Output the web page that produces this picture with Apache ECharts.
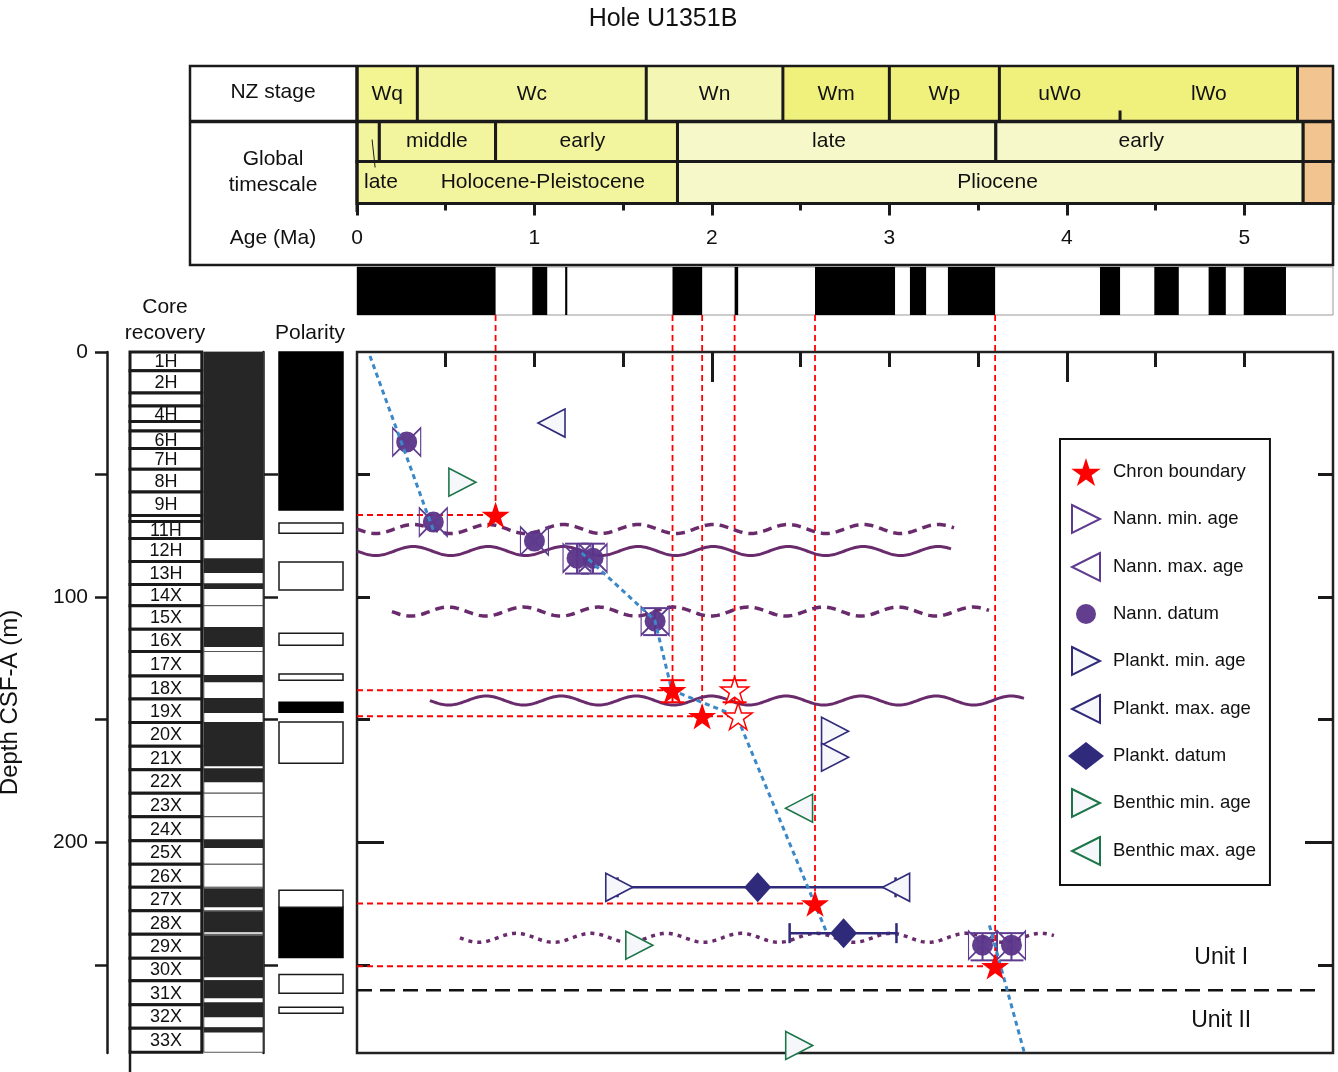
<!DOCTYPE html>
<html>
<head>
<meta charset="utf-8">
<title>Hole U1351B</title>
<script src="https://cdn.jsdelivr.net/npm/echarts@6.0.0/dist/echarts.min.js"></script>
<style>html,body{margin:0;padding:0;background:#fff;}#chart{width:1338px;height:1072px;}</style>
</head>
<body>
<div id="chart"></div>
<script>
// ================= DATA =================
// tick values / labels
const ageTicksMajor = [0, 1, 2, 3, 4, 5];
const ageTicksMinor = [0.5, 1.5, 2.5, 3.5, 4.5];
const plotAgeTicksShort = [0.5, 1, 1.5, 2.5, 3, 3.5, 4.5, 5];
const plotAgeTicksLong = [2, 4];
const depthTicks = [0, 50, 100, 150, 200, 250];
const depthLabels = [0, 100, 200];
const plotDepthTicksShort = [50, 100, 150, 250];
const plotDepthTicksLong = [200];
const recoveryTicks = [50, 100, 150, 250];

// NZ stages [startMa, endMa, label]
const nzStages = [[0, 0.34, 'Wq'], [0.34, 1.63, 'Wc'], [1.63, 2.40, 'Wn'], [2.40, 3.00, 'Wm'], [3.00, 3.62, 'Wp'], [3.62, 4.30, 'uWo'], [4.30, 5.30, 'lWo'], [5.30, 5.5, '']];
const nzSubBoundaries = [4.30];
// global stages and epochs
const stageCells = [[0, 0.126, ''], [0.126, 0.781, 'middle'], [0.781, 1.806, 'early'], [1.806, 3.60, 'late'], [3.60, 5.332, 'early'], [5.332, 5.5, '']];
const stageLabelAges = [null, 0.45, 1.27, 2.66, 4.42, null];
const lateNote = { text: 'late', labelAge: 0.135, leaderTop: 0.085, leaderBottom: 0.102 };
const epochCells = [[0, 1.806, 'Holocene-Pleistocene'], [1.806, 5.332, 'Pliocene'], [5.332, 5.5, '']];
const epochLabelAges = [1.047, 3.61, null];
// GPTS normal polarity intervals (Ma)
const normalChrons = [[0, 0.781], [0.988, 1.072], [1.173, 1.185], [1.778, 1.945], [2.128, 2.148], [2.581, 3.032], [3.116, 3.207], [3.330, 3.596], [4.187, 4.300], [4.493, 4.631], [4.799, 4.896], [4.997, 5.235]];

// cores (depth m)
const coreNames = ['1H','2H','3H','4H','5H','6H','7H','8H','9H','10H','11H','12H','13H','14X','15X','16X','17X','18X','19X','20X','21X','22X','23X','24X','25X','26X','27X','28X','29X','30X','31X','32X','33X'];
const coreTops = [0, 7.6, 16.7, 22.0, 28.4, 32.2, 39.4, 47.8, 57.1, 66.7, 69.2, 76.1, 85.5, 94.9, 103.5, 113.1, 122.2, 132.2, 141.6, 151.2, 160.8, 170.4, 180.0, 189.6, 199.4, 209.0, 218.4, 228.0, 237.6, 247.3, 256.5, 266.3, 275.9];
const coreBottoms = [7.6, 16.7, 22.0, 28.4, 32.2, 39.4, 47.8, 57.1, 66.7, 69.2, 76.1, 85.5, 94.9, 103.5, 113.1, 122.2, 132.2, 141.6, 151.2, 160.8, 170.4, 180.0, 189.6, 199.4, 209.0, 218.4, 228.0, 237.6, 247.3, 256.5, 266.3, 275.9, 285.7];
const recoveredIntervals = [[0, 76.7], [84.1, 90.2], [94.3, 96.7], [112.2, 120.4], [131.8, 134.7], [141.2, 147.3], [151.0, 169.0], [169.8, 175.5], [198.8, 202.4], [218.8, 226.5], [228.2, 236.7], [238.0, 255.1], [256.3, 263.7], [265.3, 271.4], [275.5, 277.6]];
// magnetostratigraphy (depth m)
const polarityNormal = [[0, 64.5], [142.9, 147.0], [226.5, 247.0]];
const polarityReversed = [[69.8, 73.9], [85.7, 97.1], [114.7, 119.6], [131.4, 133.9], [151.0, 167.8], [219.6, 226.5], [254.0, 261.6], [267.3, 269.8]];

// age-depth points [age Ma, depth m]
const chronBoundaries = [[0.781, 66.5], [1.778, 138.0], [1.945, 148.6], [2.581, 225.0], [3.596, 250.6]];
const chronUncertain = [[2.128, 138.0], [2.148, 148.6]];
const chronVerticalGuides = [[0.781, 66.5], [1.778, 138.0], [1.945, 148.6], [2.128, 138.0], [2.581, 225.0], [3.596, 250.6]];
const chronGuideDepths = [[66.5, 0.781], [138.0, 1.778], [148.6, 2.148], [225.0, 2.581], [250.6, 3.596]];
const chronDepthRanges = [[1.778, 133.9, 142.9], [2.128, 133.9, 142.9]];
const nannDatums = [[0.28, 36.7], [0.43, 69.4], [1.00, 77.1], [1.24, 84.1], [1.33, 84.1], [1.68, 109.8], [3.525, 242.0], [3.688, 242.0]];
const nannMinAges = [[0.28, 36.7], [0.43, 69.4], [1.00, 77.1], [1.24, 84.1], [1.33, 84.1], [1.68, 109.8], [3.525, 242.0], [3.688, 242.0]];
const nannMaxAges = [[0.28, 36.7], [0.43, 69.4], [1.00, 77.1], [1.24, 84.1], [1.33, 84.1], [1.68, 109.8], [3.525, 242.0], [3.688, 242.0]];
const nannDepthRanges = [[1.24, 78.2, 90.4], [1.33, 78.2, 90.4], [1.68, 104.5, 115.5], [3.525, 237.1, 248.2], [3.688, 237.1, 248.2]];
const planktMinAges = [[1.554, 218.4], [2.77, 154.7], [2.77, 165.3]];
const planktMaxAges = [[1.02, 29.0], [2.962, 218.4]];
const planktDatums = [[2.258, 218.4], [2.742, 237.1]];
const planktAgeRanges = [[1.468, 3.035, 218.4], [2.438, 3.04, 237.1]];
const benthicMinAges = [[0.67, 53.1], [1.667, 242.0], [2.568, 282.9]];
const benthicMaxAges = [[2.415, 186.1]];
// age model, broken at hiatuses
const ageModelUpper = [[0.073, 1.6], [0.434, 73.5]];
const ageModelMiddle = [[1.267, 82.0], [1.678, 109.4], [1.774, 138.0], [2.14, 148.6], [2.646, 236.7]];
const ageModelLower = [[3.564, 233.9], [3.761, 286]];
// hiatuses [fromAge, toAge, depth]
const hiatuses = [[0, 3.367, 72.2], [0, 3.35, 81.2], [0.197, 3.564, 105.9], [0.411, 3.761, 142.2], [0.58, 3.93, 239.0]];
const hiatusKinds = ['dashed', 'solid', 'dashed', 'solid', 'dotted'];
const unitBoundary = [0, 5.44, 260.4];
const unitNames = ['Unit I', 'Unit II'];
const unitLabelDepths = [247.3, 272.7];
const unitLabelAge = 4.87;

// ================= STYLE / LAYOUT =================
const AGE_MAX = 5.5, DEPTH_MAX = 286;
const FONT = '"Liberation Sans", Arial, Helvetica, sans-serif';
const C = { ink: '#1a1a1a', red: '#ff0000', nann: '#5b3489', nannLine: '#5e3b8f', plankt: '#2f2a7a', benthic: '#1c7548', triFill: '#f6f7fb', wave: '#6a2b6c', model: '#3b88c8' };
const nzColors = ['#f2f592', '#f3f59e', '#f4f7b4', '#f0f17c', '#f0f17c', '#f0f17c', '#f0f17c', '#f2c590'];
const stageColors = ['#f3f59e', '#f3f59e', '#f3f59e', '#f6f8c9', '#f6f8c9', '#f2c590'];
const epochColors = ['#f3f59e', '#f6f8c9', '#f2c590'];
const LY = { polBottom: 315 };
const WAVE = { amp: 4.5, len: 75 };
const TRI_R = 'path://M0,0L28,14L0,28Z';
const TRI_L = 'path://M28,0L0,14L28,28Z';
const STAR = 'path://M50,0L61.23,34.55L97.55,34.55L68.17,55.9L79.39,90.45L50,69.1L20.61,90.45L31.83,55.9L2.45,34.55L38.77,34.55Z';
const CIRCLE_ICON = 'path://M0,0M28,28M24,14A10,10,0,1,1,4,14A10,10,0,1,1,24,14Z';

const chart = echarts.init(document.getElementById('chart'), null, { renderer: 'canvas', width: 1338, height: 1072 });

function cellRect(api, a0, a1) {
  const p0 = api.coord([a0, 1]), p1 = api.coord([a1, 0]);
  return { x: p0[0], y: p0[1], width: p1[0] - p0[0], height: p1[1] - p0[1] };
}
function txt(text, x, y, size, align) {
  return { type: 'text', style: { text: text, x: x, y: y, fontSize: size, fontFamily: FONT, fill: '#111', align: align || 'center', verticalAlign: 'middle' } };
}
const OFF = { show: false, onZero: false };
const hiddenX = (g) => ({ gridIndex: g, type: 'value', min: 0, max: AGE_MAX, show: false, axisLine: OFF });
const hidden01 = (g) => ({ gridIndex: g, type: 'value', min: 0, max: 1, show: false, axisLine: OFF });
const hiddenDepth = (g) => ({ gridIndex: g, type: 'value', min: 0, max: DEPTH_MAX, inverse: true, show: false, axisLine: OFF });
const noSplit = { show: false };
const tickStyle = { color: C.ink, width: 3 };
const G = (o) => Object.assign({ outerBoundsMode: 'none', containLabel: false }, o);
function tickAxis(grid, kind, pos, ticks, len, inside) {
  const ax = { gridIndex: grid, type: 'value', position: pos, axisLine: OFF, splitLine: noSplit, axisLabel: { show: false },
    axisTick: { show: true, inside: inside, customValues: ticks, length: len, lineStyle: tickStyle } };
  if (kind === 'age') { ax.min = 0; ax.max = AGE_MAX; } else { ax.min = 0; ax.max = DEPTH_MAX; ax.inverse = true; }
  return ax;
}

const option = {
  animation: false,
  backgroundColor: '#fff',
  textStyle: { fontFamily: FONT },
  grid: [
    G({ left: 357, top: 66, width: 976, height: 55.5 }),            // 0 NZ stage
    G({ left: 357, top: 121.5, width: 976, height: 40 }),           // 1 stage
    G({ left: 357, top: 161.5, width: 976, height: 42 }),           // 2 epoch
    G({ left: 357, top: 267, width: 976, height: 48, show: true, borderColor: '#999', borderWidth: 1, backgroundColor: '#fff' }), // 3 GPTS
    G({ left: 357, top: 352, width: 976, height: 701, show: true, borderColor: '#222', borderWidth: 2.5 }), // 4 main
    G({ left: 130, top: 352, width: 133, height: 701 }),            // 5 cores
    G({ left: 279, top: 352, width: 64, height: 701 }),             // 6 polarity column
    G({ left: 357, top: 352, width: 976, height: 701 }),            // 7 main overlay (long ticks)
    G({ left: 107, top: 352, width: 20, height: 701 }),             // 8 depth axis
    G({ left: 357, top: 161.5, width: 976, height: 42 })            // 9 epoch overlay (minor age ticks)
  ],
  xAxis: [
    hiddenX(0), hiddenX(1),
    tickAxis(9, 'age', 'bottom', ageTicksMinor, 7, false),
    { gridIndex: 2, type: 'value', min: 0, max: AGE_MAX, position: 'bottom', axisLine: OFF, splitLine: noSplit,
      axisTick: { show: true, customValues: ageTicksMajor, length: 12, lineStyle: tickStyle },
      axisLabel: { show: true, customValues: ageTicksMajor, margin: 24, fontSize: 21, color: '#111', fontFamily: FONT } },
    hiddenX(3),
    tickAxis(4, 'age', 'top', plotAgeTicksShort, 15, true),
    hidden01(5),
    hidden01(6),
    tickAxis(7, 'age', 'top', plotAgeTicksLong, 30, true),
    hidden01(8)
  ],
  yAxis: [
    hidden01(0), hidden01(1), hidden01(2), hidden01(3),
    tickAxis(4, 'depth', 'left', plotDepthTicksShort, 13, true),
    tickAxis(4, 'depth', 'right', plotDepthTicksShort, 15, true),
    { gridIndex: 5, type: 'value', min: 0, max: DEPTH_MAX, inverse: true, position: 'right',
      axisLine: { show: true, onZero: false, lineStyle: { color: C.ink, width: 2.5 } }, splitLine: noSplit, axisLabel: { show: false },
      axisTick: { show: true, customValues: recoveryTicks, length: 15, lineStyle: { color: C.ink, width: 2.5 } } },
    hiddenDepth(6),
    tickAxis(7, 'depth', 'left', plotDepthTicksLong, 27, true),
    { gridIndex: 8, type: 'value', min: 0, max: DEPTH_MAX, inverse: true, position: 'left',
      axisLine: { show: true, onZero: false, lineStyle: { color: C.ink, width: 2.5 } }, splitLine: noSplit,
      axisTick: { show: true, customValues: depthTicks, length: 12, lineStyle: { color: C.ink, width: 2.5 } },
      axisLabel: { show: true, customValues: depthLabels, margin: 19, fontSize: 21, color: '#111', fontFamily: FONT },
      name: 'Depth CSF-A (m)', nameLocation: 'middle', nameGap: 85, nameRotate: 90, nameMoveOverlap: false,
      nameTextStyle: { fontSize: 24, color: '#111', fontFamily: FONT } },
    tickAxis(7, 'depth', 'right', plotDepthTicksLong, 28, true),
    hidden01(9)
  ],
  legend: {
    orient: 'vertical', left: 1060, top: 439, itemGap: 18, itemWidth: 36, itemHeight: 28,
    padding: [19, 14, 19, 8], borderColor: '#111', borderWidth: 2, backgroundColor: '#fff', selectedMode: false,
    textStyle: { fontSize: 18.5, color: '#111', fontFamily: FONT, padding: [0, 0, 0, 4] },
    data: [
      { name: 'Chron boundary' }, { name: 'Nann. min. age' }, { name: 'Nann. max. age' },
      { name: 'Nann. datum', icon: CIRCLE_ICON }, { name: 'Plankt. min. age' }, { name: 'Plankt. max. age' },
      { name: 'Plankt. datum' }, { name: 'Benthic min. age' }, { name: 'Benthic max. age' }
    ]
  },
  graphic: [
    { type: 'text', z: 100, style: { text: 'Hole U1351B', x: 663, y: 19, fontSize: 25, fontFamily: FONT, fill: '#111', align: 'center', verticalAlign: 'middle' } },
    { type: 'rect', z: 100, shape: { x: 190, y: 66, width: 1143, height: 199 }, style: { fill: null, stroke: C.ink, lineWidth: 2.5 } },
    { type: 'line', z: 100, shape: { x1: 190, y1: 121.5, x2: 1333, y2: 121.5 }, style: { stroke: C.ink, lineWidth: 3.5 } },
    { type: 'line', z: 100, shape: { x1: 357, y1: 66, x2: 357, y2: 212 }, style: { stroke: C.ink, lineWidth: 3 } },
    { type: 'line', z: 100, shape: { x1: 130, y1: 1050, x2: 130, y2: 1072 }, style: { stroke: C.ink, lineWidth: 2.5 } },
    { type: 'text', z: 100, style: { text: 'NZ stage', x: 273, y: 92, fontSize: 21, fontFamily: FONT, fill: '#111', align: 'center', verticalAlign: 'middle' } },
    { type: 'text', z: 100, style: { text: 'Global', x: 273, y: 159, fontSize: 21, fontFamily: FONT, fill: '#111', align: 'center', verticalAlign: 'middle' } },
    { type: 'text', z: 100, style: { text: 'timescale', x: 273, y: 185, fontSize: 21, fontFamily: FONT, fill: '#111', align: 'center', verticalAlign: 'middle' } },
    { type: 'text', z: 100, style: { text: 'Age (Ma)', x: 273, y: 238, fontSize: 21, fontFamily: FONT, fill: '#111', align: 'center', verticalAlign: 'middle' } },
    { type: 'text', z: 100, style: { text: 'Core', x: 165, y: 307, fontSize: 21, fontFamily: FONT, fill: '#111', align: 'center', verticalAlign: 'middle' } },
    { type: 'text', z: 100, style: { text: 'recovery', x: 165, y: 333, fontSize: 21, fontFamily: FONT, fill: '#111', align: 'center', verticalAlign: 'middle' } },
    { type: 'text', z: 100, style: { text: 'Polarity', x: 310, y: 333, fontSize: 21, fontFamily: FONT, fill: '#111', align: 'center', verticalAlign: 'middle' } }
  ],
  series: []
};

const S = option.series;
// ---- header: NZ stages
S.push({ type: 'custom', name: 'nz', xAxisIndex: 0, yAxisIndex: 0, data: nzStages.map(s => [s[0], s[1]]),
  renderItem: (params, api) => {
    const i = params.dataIndex, s = nzStages[i], r = cellRect(api, s[0], s[1]);
    const ch = [{ type: 'rect', shape: r, style: { fill: nzColors[i] } }];
    if (nzSubBoundaries.indexOf(s[0]) >= 0) ch.push({ type: 'line', shape: { x1: r.x, y1: r.y + r.height, x2: r.x, y2: r.y + r.height - 11 }, style: { stroke: C.ink, lineWidth: 3 } });
    else ch.push({ type: 'line', shape: { x1: r.x, y1: r.y, x2: r.x, y2: r.y + r.height }, style: { stroke: C.ink, lineWidth: 3 } });
    if (s[2]) ch.push(txt(s[2], r.x + r.width / 2, r.y + r.height / 2, 21));
    return { type: 'group', children: ch };
  } });
// ---- header: stages
S.push({ type: 'custom', name: 'stage', xAxisIndex: 1, yAxisIndex: 1, data: stageCells.map(s => [s[0], s[1]]),
  renderItem: (params, api) => {
    const i = params.dataIndex, s = stageCells[i], r = cellRect(api, s[0], s[1]);
    const ch = [{ type: 'rect', shape: r, style: { fill: stageColors[i], stroke: C.ink, lineWidth: 3 } }];
    if (s[2]) ch.push(txt(s[2], api.coord([stageLabelAges[i], 0])[0], r.y + r.height / 2, 21));
    if (i === 0) {
      const xa = api.coord([lateNote.leaderTop, 0])[0], xb = api.coord([lateNote.leaderBottom, 0])[0];
      ch.push({ type: 'line', z2: 10, shape: { x1: xa, y1: r.y + 18, x2: xb, y2: r.y + r.height + 6 }, style: { stroke: C.ink, lineWidth: 1 } });
    }
    return { type: 'group', children: ch };
  } });
// ---- header: epochs
S.push({ type: 'custom', name: 'epoch', xAxisIndex: 3, yAxisIndex: 2, data: epochCells.map(s => [s[0], s[1]]),
  renderItem: (params, api) => {
    const i = params.dataIndex, s = epochCells[i], r = cellRect(api, s[0], s[1]);
    const ch = [{ type: 'rect', shape: r, style: { fill: epochColors[i], stroke: C.ink, lineWidth: 3 } }];
    if (s[2]) ch.push(txt(s[2], api.coord([epochLabelAges[i], 0])[0], r.y + r.height / 2, 21));
    if (i === 0) ch.push(txt(lateNote.text, api.coord([lateNote.labelAge, 0])[0], r.y + r.height / 2, 21));
    return { type: 'group', children: ch };
  } });
// ---- GPTS bar
S.push({ type: 'custom', name: 'gpts', xAxisIndex: 4, yAxisIndex: 3, data: normalChrons,
  renderItem: (params, api) => ({ type: 'rect', shape: cellRect(api, api.value(0), api.value(1)), style: { fill: '#000' } }) });

// ---- cores
S.push({ type: 'custom', name: 'cores', xAxisIndex: 6, yAxisIndex: 6, data: coreTops.map((t, i) => [t, coreBottoms[i]]),
  renderItem: (params, api) => {
    const i = params.dataIndex;
    const a = api.coord([0, coreTops[i]]), b = api.coord([0.54, coreBottoms[i]]);
    const c = api.coord([0.555, coreTops[i]]), d = api.coord([1, coreBottoms[i]]);
    const ch = [
      { type: 'rect', shape: { x: c[0], y: c[1], width: d[0] - c[0], height: d[1] - c[1] }, style: { fill: '#fff', stroke: '#555', lineWidth: 1 } },
      { type: 'rect', shape: { x: a[0], y: a[1], width: b[0] - a[0], height: b[1] - a[1] }, style: { fill: '#fff', stroke: C.ink, lineWidth: 3 } }
    ];
    if (b[1] - a[1] >= 14) ch.push(txt(coreNames[i], (a[0] + b[0]) / 2, (a[1] + b[1]) / 2 + 1, 18));
    return { type: 'group', children: ch };
  } });
S.push({ type: 'custom', name: 'recovery', xAxisIndex: 6, yAxisIndex: 6, data: recoveredIntervals, z: 3,
  renderItem: (params, api) => {
    const c = api.coord([0.555, api.value(0)]), d = api.coord([1, api.value(1)]);
    return { type: 'rect', shape: { x: c[0], y: c[1], width: d[0] - c[0], height: d[1] - c[1] }, style: { fill: '#262626' } };
  } });
// ---- polarity column
function polRect(fill, stroke) {
  return (params, api) => {
    const c = api.coord([0, api.value(0)]), d = api.coord([1, api.value(1)]);
    return { type: 'rect', shape: { x: c[0], y: c[1], width: d[0] - c[0], height: d[1] - c[1] }, style: { fill: fill, stroke: stroke, lineWidth: 1.5 } };
  };
}
S.push({ type: 'custom', name: 'polN', xAxisIndex: 7, yAxisIndex: 7, data: polarityNormal, renderItem: polRect('#000', '#000') });
S.push({ type: 'custom', name: 'polR', xAxisIndex: 7, yAxisIndex: 7, data: polarityReversed, renderItem: polRect('#fff', C.ink) });

// ---- main plot
const MX = 5, MY = 4;
S.push({ type: 'custom', name: 'vguides', xAxisIndex: MX, yAxisIndex: MY, clip: false, z: 1, data: chronVerticalGuides,
  renderItem: (params, api) => {
    const p = api.coord([api.value(0), api.value(1)]);
    return { type: 'line', shape: { x1: p[0], y1: LY.polBottom, x2: p[0], y2: p[1] }, style: { stroke: C.red, lineWidth: 1.8, lineDash: [6, 4] } };
  } });
S.push({ type: 'custom', name: 'hguides', xAxisIndex: MX, yAxisIndex: MY, z: 1, data: chronGuideDepths.map(g => [g[1], g[0]]),
  renderItem: (params, api) => {
    const p0 = api.coord([0, api.value(1)]), p1 = api.coord([api.value(0), api.value(1)]);
    return { type: 'line', shape: { x1: p0[0], y1: p0[1], x2: p1[0], y2: p1[1] }, style: { stroke: C.red, lineWidth: 1.8, lineDash: [6, 4] } };
  } });
S.push({ type: 'custom', name: 'unitBoundary', xAxisIndex: MX, yAxisIndex: MY, z: 1, data: [unitBoundary],
  renderItem: (params, api) => {
    const p0 = api.coord([api.value(0), api.value(2)]), p1 = api.coord([api.value(1), api.value(2)]);
    return { type: 'line', shape: { x1: p0[0], y1: p0[1], x2: p1[0], y2: p1[1] }, style: { stroke: '#111', lineWidth: 2.5, lineDash: [15, 8] } };
  } });
S.push({ type: 'custom', name: 'units', xAxisIndex: MX, yAxisIndex: MY, z: 1, data: unitLabelDepths.map(d => [unitLabelAge, d]),
  renderItem: (params, api) => {
    const p = api.coord([api.value(0), api.value(1)]);
    return txt(unitNames[params.dataIndex], p[0], p[1], 23);
  } });
S.push({ type: 'custom', name: 'hiatuses', xAxisIndex: MX, yAxisIndex: MY, z: 2, data: hiatuses,
  renderItem: (params, api) => {
    const h = hiatuses[params.dataIndex];
    const p0 = api.coord([h[0], h[2]]), p1 = api.coord([h[1], h[2]]);
    const pts = [];
    for (let x = p0[0]; x <= p1[0]; x += 1.5) pts.push([x, p0[1] + WAVE.amp * Math.sin(2 * Math.PI * (x - p0[0]) / WAVE.len)]);
    const k = hiatusKinds[params.dataIndex];
    return { type: 'polyline', shape: { points: pts }, style: { stroke: C.wave, fill: null, lineWidth: k === 'solid' ? 3 : 3.5, lineDash: k === 'dashed' ? [9, 6] : (k === 'dotted' ? [4, 5] : null) } };
  } });
function depthBars(color) {
  return (params, api) => {
    const a = api.coord([api.value(0), api.value(1)]), b = api.coord([api.value(0), api.value(2)]);
    return { type: 'group', children: [
      { type: 'line', shape: { x1: a[0], y1: a[1], x2: b[0], y2: b[1] }, style: { stroke: color, lineWidth: 2 } },
      { type: 'line', shape: { x1: a[0] - 12, y1: a[1], x2: a[0] + 12, y2: a[1] }, style: { stroke: color, lineWidth: 2 } },
      { type: 'line', shape: { x1: b[0] - 12, y1: b[1], x2: b[0] + 12, y2: b[1] }, style: { stroke: color, lineWidth: 2 } }
    ] };
  };
}
S.push({ type: 'custom', name: 'nannDepthBars', xAxisIndex: MX, yAxisIndex: MY, z: 3, data: nannDepthRanges, renderItem: depthBars(C.nannLine) });
S.push({ type: 'custom', name: 'chronDepthBars', xAxisIndex: MX, yAxisIndex: MY, z: 3, data: chronDepthRanges, renderItem: depthBars(C.red) });
S.push({ type: 'custom', name: 'planktRanges', xAxisIndex: MX, yAxisIndex: MY, z: 3, data: planktAgeRanges,
  renderItem: (params, api) => {
    const a = api.coord([api.value(0), api.value(2)]), b = api.coord([api.value(1), api.value(2)]);
    return { type: 'group', children: [
      { type: 'line', shape: { x1: a[0], y1: a[1], x2: b[0], y2: b[1] }, style: { stroke: C.plankt, lineWidth: 2.5 } },
      { type: 'line', shape: { x1: a[0], y1: a[1] - 10, x2: a[0], y2: a[1] + 10 }, style: { stroke: C.plankt, lineWidth: 2.5 } },
      { type: 'line', shape: { x1: b[0], y1: b[1] - 10, x2: b[0], y2: b[1] + 10 }, style: { stroke: C.plankt, lineWidth: 2.5 } }
    ] };
  } });

function tri(name, data, sym, color, size, offset, z, fill) {
  return { type: 'scatter', name: name, xAxisIndex: MX, yAxisIndex: MY, z: z, data: data, symbol: sym, symbolSize: size, symbolOffset: offset,
    itemStyle: { color: fill, borderColor: color, borderWidth: 1.6, opacity: 1 } };
}
S.push(tri('Plankt. min. age', planktMinAges, TRI_R, C.plankt, [27, 28], [-13.5, 0], 4, C.triFill));
S.push(tri('Plankt. max. age', planktMaxAges, TRI_L, C.plankt, [27, 28], [13.5, 0], 4, C.triFill));
S.push(tri('Benthic min. age', benthicMinAges, TRI_R, C.benthic, [27, 28], [-13.5, 0], 4, C.triFill));
S.push(tri('Benthic max. age', benthicMaxAges, TRI_L, C.benthic, [27, 28], [13.5, 0], 4, C.triFill));
S.push({ type: 'scatter', name: 'Nann. datum', xAxisIndex: MX, yAxisIndex: MY, z: 5, data: nannDatums, symbol: 'circle', symbolSize: 21,
  itemStyle: { color: C.nann, opacity: 0.95 } });
S.push(tri('Nann. min. age', nannMinAges, TRI_R, C.nannLine, [14, 28], [-7, 0], 6, 'rgba(255,255,255,0)'));
S.push(tri('Nann. max. age', nannMaxAges, TRI_L, C.nannLine, [14, 28], [7, 0], 6, 'rgba(255,255,255,0)'));
S.push({ type: 'scatter', name: 'Plankt. datum', xAxisIndex: MX, yAxisIndex: MY, z: 5, data: planktDatums, symbol: 'diamond', symbolSize: [27, 30],
  itemStyle: { color: C.plankt, opacity: 1 } });
[ageModelUpper, ageModelMiddle, ageModelLower].forEach((seg, k) => {
  S.push({ type: 'line', name: 'age model ' + k, xAxisIndex: MX, yAxisIndex: MY, z: 7, data: seg, showSymbol: false, symbol: 'none',
    lineStyle: { color: C.model, width: 3, type: [5, 4] } });
});
S.push({ type: 'scatter', name: 'Chron boundary', xAxisIndex: MX, yAxisIndex: MY, z: 8, data: chronBoundaries, symbol: STAR, symbolSize: 28, symbolKeepAspect: true,
  itemStyle: { color: C.red, opacity: 1 } });
S.push({ type: 'scatter', name: 'Chron uncertain', xAxisIndex: MX, yAxisIndex: MY, z: 8, data: chronUncertain, symbol: STAR, symbolSize: 28, symbolKeepAspect: true,
  itemStyle: { color: '#fff', borderColor: C.red, borderWidth: 1.5, opacity: 1 } });

chart.setOption(option);
</script>
</body>
</html>
